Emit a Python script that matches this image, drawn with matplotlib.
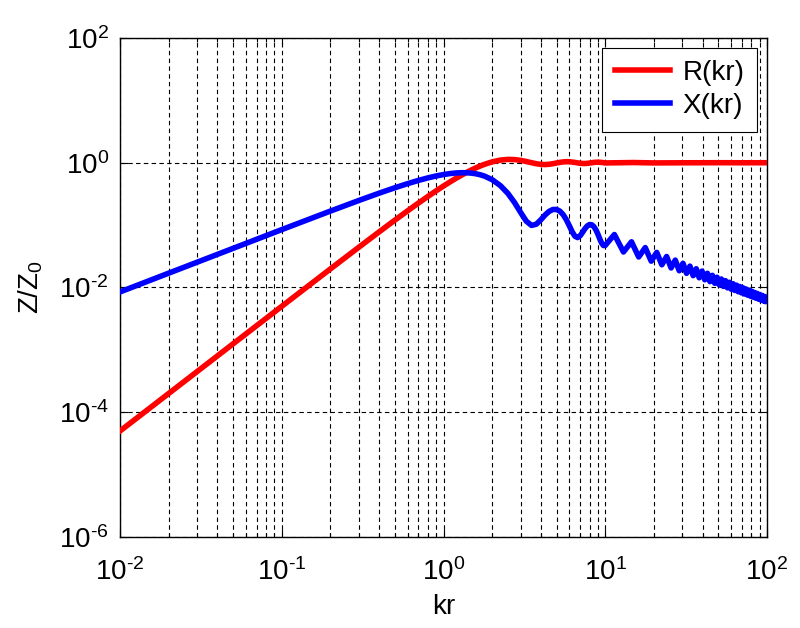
import matplotlib
matplotlib.use("Agg")
import matplotlib.pyplot as plt
from matplotlib.ticker import NullLocator, LogLocator, NullFormatter

plt.rcParams['font.family'] = ['Liberation Sans', 'DejaVu Sans']
plt.rcParams['mathtext.fontset'] = 'custom'
plt.rcParams['mathtext.rm'] = 'Liberation Sans'
plt.rcParams['mathtext.it'] = 'Liberation Sans:italic'
plt.rcParams['mathtext.bf'] = 'Liberation Sans:bold'
plt.rcParams['axes.unicode_minus'] = False

# ---- data ----
kr = [0.01, 0.02, 0.05, 0.1, 0.2, 0.3, 0.4, 0.5, 0.6, 0.7, 0.8, 0.9, 1.0,
      1.1, 1.2, 1.3, 1.4, 1.5, 1.6, 1.7, 1.8, 2.0, 2.25, 2.5, 2.75, 3.0,
      3.25, 3.5, 3.75, 4.0, 4.25, 4.5, 4.75, 5.0, 5.25, 5.5, 5.75, 6.0,
      6.25, 6.5, 6.75, 7.0, 7.25, 7.5, 7.75, 8.0, 8.25, 8.5, 8.75, 9.0,
      9.25, 9.5, 9.75, 10.0]

R_vals = [5.0e-5, 2.0e-4, 1.25e-3, 4.99e-3, 0.01987, 0.04433, 0.0779,
          0.1199, 0.1695, 0.2258, 0.2876, 0.3539, 0.4233, 0.4946, 0.5665,
          0.6379, 0.7074, 0.7740, 0.8367, 0.8946, 0.9470, 1.0330, 1.1029,
          1.1311, 1.1242, 1.0922, 1.0473, 1.0013, 0.9639, 0.9414, 0.9357,
          0.9455, 0.9661, 0.9913, 1.0150, 1.0321, 1.0397, 1.0372, 1.0265,
          1.0108, 0.9944, 0.9809, 0.9733, 0.9727, 0.9784, 0.9887, 1.0007,
          1.0115, 1.0187, 1.0209, 1.0180, 1.0111, 1.0021, 0.9933]

X_vals = [0.008488, 0.01698, 0.04241, 0.0847, 0.1680, 0.2486, 0.3253,
          0.3969, 0.4624, 0.5208, 0.5713, 0.6135, 0.6468, 0.6711, 0.6863,
          0.6926, 0.6904, 0.6801, 0.6624, 0.6381, 0.6081, 0.5349, 0.4286,
          0.3227, 0.2297, 0.1592, 0.1158, 0.0989, 0.1035, 0.1220, 0.1456,
          0.1663, 0.1782, 0.1784, 0.1669, 0.1465, 0.1216, 0.0973, 0.0779,
          0.0662, 0.0631, 0.0676, 0.0770, 0.0881, 0.0973, 0.1021, 0.1013,
          0.0948, 0.0842, 0.0719, 0.0602, 0.0515, 0.0471, 0.0473]

kr_R_tail = [15.0, 20.0, 30.0, 50.0, 70.0, 100.0]
R_tail = [1.0079, 0.9937, 0.9984, 1.0015, 0.9992, 1.0005]

kr_X_tail = [11.39, 12.96, 14.53, 16.10, 17.67, 19.24, 20.81, 22.38, 23.96,
             25.53, 27.10, 28.67, 30.24, 31.81, 33.38, 34.95, 36.52, 38.09,
             39.66, 41.23, 42.80, 44.38, 45.95, 47.52, 49.09, 50.66, 52.23,
             53.80, 55.37, 56.94, 58.51, 60.08, 61.65, 63.23, 64.80, 66.37,
             67.94, 69.51, 71.08, 72.65, 74.22, 75.79, 77.36, 78.93, 80.50,
             82.08, 83.65, 85.22, 86.79, 88.36, 89.93, 91.50, 93.07, 94.64,
             96.21, 97.78, 99.35, 100.0]
X_tail = [0.07069, 0.03710, 0.05405, 0.03084, 0.04365, 0.02642, 0.03655,
          0.02313, 0.03140, 0.02057, 0.02750, 0.01854, 0.02445, 0.01687,
          0.02200, 0.01549, 0.01999, 0.01432, 0.01831, 0.01331, 0.01689,
          0.01244, 0.01567, 0.01168, 0.01461, 0.01100, 0.01368, 0.01040,
          0.01287, 0.00987, 0.01214, 0.00938, 0.01149, 0.00895, 0.01091,
          0.00855, 0.01038, 0.00819, 0.00990, 0.00785, 0.00946, 0.00754,
          0.00906, 0.00726, 0.00869, 0.00700, 0.00835, 0.00675, 0.00803,
          0.00653, 0.00774, 0.00631, 0.00747, 0.00611, 0.00721, 0.00593,
          0.00698, 0.00652]

x_exponents = [-2, -1, 0, 1, 2]
y_exponents = [-6, -4, -2, 0, 2]

labels = ['R(kr)', 'X(kr)']
colors = ['#ff0000', '#0000ff']


def pow_label(e):
    if e < 0:
        return r'$\mathdefault{10^{\text{-}%d}}$' % (-e)
    return r'$\mathdefault{10^{%d}}$' % e


# ---- figure ----
fig = plt.figure(figsize=(8.0, 6.28), dpi=100)
ax = fig.add_axes([0.15, 0.1449, 0.80875, 0.7946])

ax.loglog(kr + kr_R_tail, R_vals + R_tail, color=colors[0], lw=4,
          label=labels[0], solid_joinstyle='round', zorder=3)
ax.loglog(kr + kr_X_tail, X_vals + X_tail, color=colors[1], lw=4,
          label=labels[1], solid_joinstyle='round', zorder=3)

ax.set_xlim(10.0 ** x_exponents[0], 10.0 ** x_exponents[-1])
ax.set_ylim(10.0 ** y_exponents[0], 10.0 ** y_exponents[-1])

ax.set_xticks([10.0 ** e for e in x_exponents])
ax.set_xticklabels([pow_label(e) for e in x_exponents])
ax.xaxis.set_minor_locator(LogLocator(base=10, subs=range(2, 10), numticks=20))
ax.xaxis.set_minor_formatter(NullFormatter())
ax.set_yticks([10.0 ** e for e in y_exponents])
ax.set_yticklabels([pow_label(e) for e in y_exponents])
ax.yaxis.set_minor_locator(NullLocator())

ax.grid(True, which='major', axis='both', color='black', lw=0.8,
        linestyle=(0, (4, 3)))
ax.grid(True, which='minor', axis='x', color='black', lw=0.8,
        linestyle=(0, (4, 3)))
ax.set_axisbelow(True)

ax.tick_params(which='both', direction='in', top=True, right=True,
               labelsize=20, width=0.8)
ax.tick_params(which='major', length=6)
ax.tick_params(which='minor', length=3)
ax.tick_params(axis='x', which='major', pad=15)
ax.tick_params(axis='y', which='major', pad=8)
for sp in ax.spines.values():
    sp.set_linewidth(1.0)
    sp.set_color('black')

ax.set_xlabel('kr', fontsize=20, labelpad=6)
ax.set_ylabel('Z/Z$_0$', fontsize=20, labelpad=10)

leg = ax.legend(loc='upper right', fontsize=20, fancybox=False,
                edgecolor='black', framealpha=1, handlelength=2.0,
                borderaxespad=0.35, borderpad=0.45, labelspacing=0.25,
                handletextpad=0.45)
leg.get_frame().set_linewidth(0.8)

fig.savefig('out.png', dpi=100)
